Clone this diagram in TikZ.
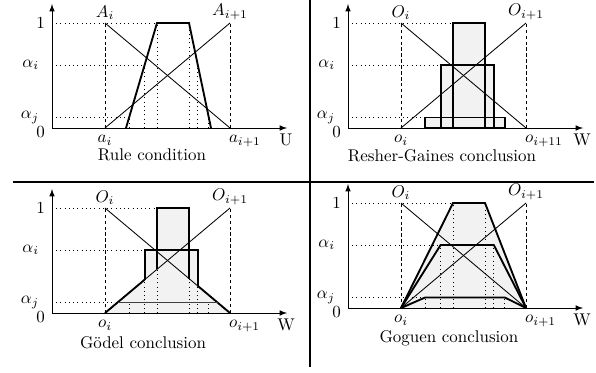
\documentclass[tikz,border=0pt]{standalone}
\usepackage{tikz}

\begin{document}
\begin{tikzpicture}[x=0.59pt,y=0.59pt,
  axis/.style={->,>=latex,line width=0.5pt},
  guide/.style={dotted,line width=0.5pt},
  drop/.style={dashed,line width=0.5pt,dash pattern=on 2pt off 1.5pt},
  memb/.style={line width=0.5pt},
  result/.style={line width=1.1pt,line join=miter},
  shade/.style={fill=black!5},
  lbl/.style={inner sep=1pt}]

  \useasboundingbox (0,0) rectangle (596,372);
  \draw[line width=1.2pt] (310,372) -- (310,5);
  \draw[line width=1.5pt] (13,190) -- (594,190);

  % rule condition
  \begin{scope}[shift={(52,244)},y=61.95pt]
    \draw[guide] (0,1) -- (105,1);
    \draw[guide] (0,0.6) -- (92.6,0.6);
    \draw[guide] (0,0.1) -- (77.1,0.1);
    \foreach \px/\py in {77.1/0.1,92.6/0.6,105/1,137/1,145.8/0.6,156.8/0.1}
      \draw[guide] (\px,0) -- (\px,\py);
    \draw[drop] (53,0) -- (53,1);
    \draw[drop] (178,0) -- (178,1);
    \draw[memb] (53,1) -- (178,0);
    \draw[memb] (53,0) -- (178,1);
    \draw[result] (74,0) -- (105,1) -- (137,1) -- (159,0);
    \draw[axis] (0,0) -- (235,0);
    \draw[axis] (0,0) -- (0,1.18);
    \node[lbl,anchor=east] (one1) at (-5,1) {1};
    \node[lbl,anchor=east] (ai1) at (-11,0.6) {$\alpha_i$};
    \node[lbl,anchor=east] (aj1) at (-11,0.1) {$\alpha_j$};
    \node[lbl,anchor=east] (zero1) at (-5,-0.04) {0};
    \node[lbl,anchor=south] (Ai) at (53,1.01) {$A_i$};
    \node[lbl,anchor=south] (Aii) at (178,1.01) {$A_{i+1}$};
    \node[lbl,anchor=north] (ai) at (53,-0.05) {$a_i$};
    \node[lbl,anchor=north west] (aii) at (175,-0.05) {$a_{i+1}$};
    \node[lbl,anchor=north] (U) at (234,-0.04) {U};
    \node (cap1) at (100,-0.26) {Rule condition};
  \end{scope}

  % Resher-Gaines
  \begin{scope}[shift={(348,244)},y=61.95pt]
    \fill[shade] (77.1,0) rectangle (156.8,0.1);
    \fill[shade] (92.6,0) rectangle (145.8,0.6);
    \fill[shade] (105,0) rectangle (137,1);
    \draw[guide] (0,1) -- (105,1);
    \draw[guide] (0,0.6) -- (92.6,0.6);
    \draw[guide] (0,0.1) -- (77.1,0.1);
    \draw[drop] (53,0) -- (53,1);
    \draw[drop] (178,0) -- (178,1);
    \draw[memb] (53,1) -- (178,0);
    \draw[memb] (53,0) -- (178,1);
    \draw[result] (77.1,0) rectangle (156.8,0.1);
    \draw[result] (92.6,0) rectangle (145.8,0.6);
    \draw[result] (105,0) rectangle (137,1);
    \draw[axis] (0,0) -- (235,0);
    \draw[axis] (0,0) -- (0,1.18);
    \node[lbl,anchor=east] (one2) at (-5,1) {1};
    \node[lbl,anchor=east] (ai2) at (-11,0.6) {$\alpha_i$};
    \node[lbl,anchor=east] (aj2) at (-11,0.1) {$\alpha_j$};
    \node[lbl,anchor=east] (zero2) at (-5,-0.04) {0};
    \node[lbl,anchor=south] (Oi2) at (53,1.01) {$O_i$};
    \node[lbl,anchor=south] (Oii2) at (178,1.01) {$O_{i+1}$};
    \node[lbl,anchor=north] (oi2) at (53,-0.05) {$o_i$};
    \node[lbl,anchor=north west] (oii2) at (175,-0.05) {$o_{i+11}$};
    \node[lbl,anchor=north] (W2) at (234,-0.04) {W};
    \node (cap2) at (94,-0.26) {Resher-Gaines conclusion};
  \end{scope}

  % Goedel
  \begin{scope}[shift={(52,59)},y=61.95pt]
    \fill[shade] (53,0) -- (115.5,0.5) -- (178,0) -- cycle;
    \fill[shade] (92.6,0) rectangle (145.8,0.6);
    \fill[shade] (105,0) rectangle (137,1);
    \draw[guide] (0,1) -- (105,1);
    \draw[guide] (0,0.6) -- (92.6,0.6);
    \draw[guide] (0,0.1) -- (65.5,0.1);
    \foreach \px/\py in {77.1/0.1,92.6/0.317,105/0.416,137/0.328,145.8/0.258,156.8/0.1}
      \draw[guide] (\px,0) -- (\px,\py);
    \draw[drop] (53,0) -- (53,1);
    \draw[drop] (178,0) -- (178,1);
    \draw[memb] (53,1) -- (178,0);
    \draw[memb] (53,0) -- (178,1);
    \draw[result] (53,0) -- (92.6,0.317);
    \draw[result] (178,0) -- (145.8,0.258);
    \draw[result] (92.6,0.317) -- (92.6,0.6) -- (145.8,0.6) -- (145.8,0.258);
    \draw[result] (105,0.416) -- (105,1) -- (137,1) -- (137,0.328);
    \draw[result,black!75] (65.5,0.1) -- (165.5,0.1);
    \draw[axis] (0,0) -- (235,0);
    \draw[axis] (0,0) -- (0,1.18);
    \node[lbl,anchor=east] (one3) at (-5,1) {1};
    \node[lbl,anchor=east] (ai3) at (-11,0.6) {$\alpha_i$};
    \node[lbl,anchor=east] (aj3) at (-11,0.1) {$\alpha_j$};
    \node[lbl,anchor=east] (zero3) at (-5,-0.04) {0};
    \node[lbl,anchor=south] (Oi3) at (53,1.01) {$O_i$};
    \node[lbl,anchor=south] (Oii3) at (178,1.01) {$O_{i+1}$};
    \node[lbl,anchor=north] (oi3) at (53,-0.05) {$o_i$};
    \node[lbl,anchor=north west] (oii3) at (175,-0.05) {$o_{i+1}$};
    \node[lbl,anchor=north] (W3) at (234,-0.04) {W};
    \node (cap3) at (91,-0.286) {G\"odel conclusion};
  \end{scope}

  % Goguen
  \begin{scope}[shift={(348,64)},y=61.95pt]
    \fill[shade] (53,0) -- (105,1) -- (137,1) -- (178,0) -- cycle;
    \draw[guide] (0,1) -- (105,1);
    \draw[guide] (0,0.6) -- (92.6,0.6);
    \draw[guide] (0,0.1) -- (77.1,0.1);
    \foreach \px/\py in {77.1/0.1,92.6/0.6,105/1,137/1,145.8/0.6,156.8/0.1}
      \draw[guide] (\px,0) -- (\px,\py);
    \draw[drop] (53,0) -- (53,1);
    \draw[drop] (178,0) -- (178,1);
    \draw[memb] (53,1) -- (178,0);
    \draw[memb] (53,0) -- (178,1);
    \draw[result] (53,0) -- (105,1) -- (137,1) -- (178,0);
    \draw[result] (53,0) -- (92.6,0.6) -- (145.8,0.6) -- (178,0);
    \draw[result] (53,0) -- (77.1,0.1) -- (156.8,0.1) -- (178,0);
    \draw[axis] (0,0) -- (235,0);
    \draw[axis] (0,0) -- (0,1.18);
    \node[lbl,anchor=east] (one4) at (-5,1) {1};
    \node[lbl,anchor=east] (ai4) at (-11,0.6) {$\alpha_i$};
    \node[lbl,anchor=east] (aj4) at (-11,0.1) {$\alpha_j$};
    \node[lbl,anchor=east] (zero4) at (-5,-0.04) {0};
    \node[lbl,anchor=south] (Oi4) at (53,1.01) {$O_i$};
    \node[lbl,anchor=south] (Oii4) at (178,1.01) {$O_{i+1}$};
    \node[lbl,anchor=north] (oi4) at (53,-0.05) {$o_i$};
    \node[lbl,anchor=north west] (oii4) at (175,-0.05) {$o_{i+1}$};
    \node[lbl,anchor=north] (W4) at (234,-0.04) {W};
    \node (cap4) at (101,-0.288) {Goguen conclusion};
  \end{scope}
\end{tikzpicture}
\end{document}
